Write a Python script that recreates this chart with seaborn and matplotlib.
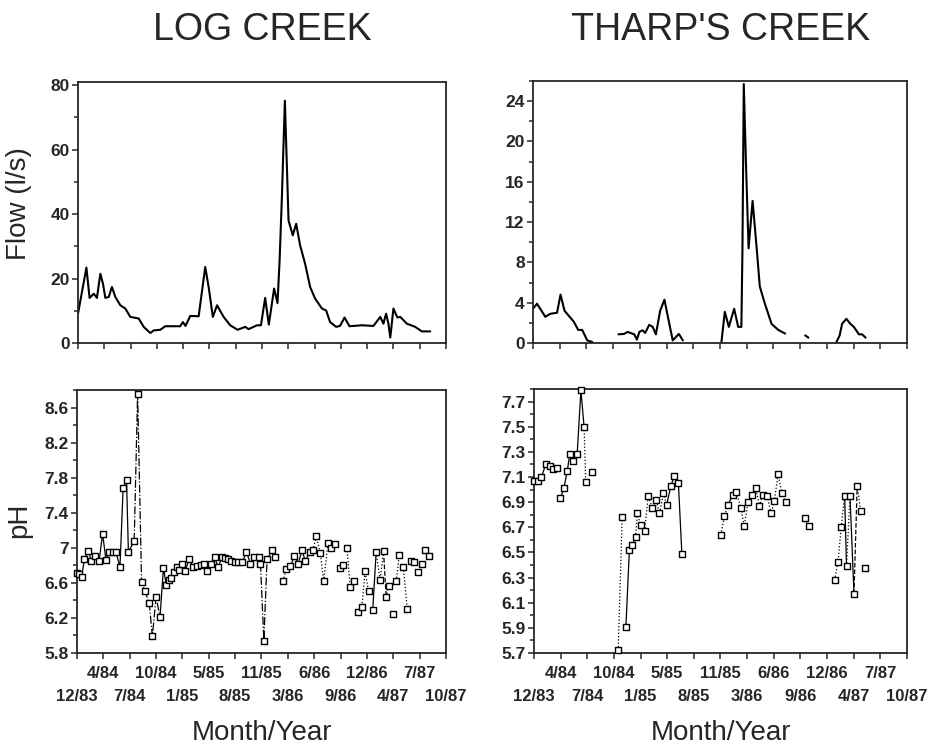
import numpy as np
import pandas as pd
import matplotlib
matplotlib.use('Agg')
import matplotlib.pyplot as plt
import seaborn as sns
from matplotlib.ticker import MultipleLocator

sns.set_style('ticks')
plt.rcParams['font.family'] = ['Liberation Sans', 'DejaVu Sans']

# ---------------- data (x in units of the evenly spaced month ticks) ----------------
month_labels = ['12/83', '4/84', '7/84', '10/84', '1/85', '5/85', '8/85', '11/85',
                '3/86', '6/86', '9/86', '12/86', '4/87', '7/87', '10/87']

log_flow_x = [0, 0.32, 0.44, 0.60, 0.72, 0.85, 0.95, 1.04, 1.17, 1.29,
              1.42, 1.61, 1.80, 1.99, 2.31, 2.50, 2.75, 2.88, 3.13, 3.32,
              3.89, 3.99, 4.09, 4.27, 4.59, 4.84, 4.97, 5.13, 5.29, 5.54,
              5.79, 6.07, 6.36, 6.49, 6.81, 6.96, 7.12, 7.26, 7.46, 7.59,
              7.67, 7.76, 7.87, 8.01, 8.17, 8.30, 8.45, 8.64, 8.83, 9.02,
              9.28, 9.44, 9.59, 9.82, 9.97, 10.14, 10.33, 10.80, 11.24, 11.50,
              11.62, 11.72, 11.81, 11.88, 12.00, 12.15, 12.26, 12.51, 12.83, 13.08,
              13.40]
log_flow_y = [9.1, 23.4, 14.0, 15.3, 14.0, 21.5, 18.4, 14.0, 14.3, 17.4,
              14.3, 11.7, 10.7, 8.1, 7.6, 5.0, 3.1, 3.9, 4.1, 5.2,
              5.2, 6.5, 5.3, 8.4, 8.3, 23.6, 17.4, 8.1, 11.7, 8.1,
              5.5, 4.1, 5.0, 4.3, 5.5, 5.5, 14.0, 5.7, 16.9, 12.4,
              25.7, 46.0, 75.2, 38.0, 33.4, 37.0, 30.3, 24.6, 17.4, 13.8,
              10.7, 10.1, 6.5, 5.0, 5.3, 7.9, 5.2, 5.5, 5.3, 8.1,
              6.0, 9.1, 6.0, 1.7, 10.7, 7.9, 8.1, 6.0, 5.0, 3.6,
              3.6]

tharp_flow_x = [0.00, 0.15, 0.46, 0.65, 0.90, 1.03, 1.18, 1.34, 1.53, 1.69, 1.84, 2.03, 2.22,
                3.20, 3.41, 3.54, 3.79, 3.89, 3.98, 4.10, 4.20, 4.35, 4.48, 4.60, 4.76, 4.92,
                5.08, 5.23, 5.46, 5.61,
                7.05, 7.18, 7.33, 7.53, 7.68, 7.80, 7.84, 7.89, 7.97, 8.07, 8.22, 8.37, 8.49,
                8.68, 8.93, 9.18, 9.44,
                10.19, 10.31,
                11.36, 11.48, 11.57, 11.73, 11.88, 12.01, 12.20, 12.32, 12.45]
tharp_flow_y = [3.4, 3.9, 2.6, 2.9, 3.0, 4.8, 3.2, 2.7, 2.1, 1.3, 1.3, 0.26, 0.1,
                0.86, 0.9, 1.1, 0.86, 0.33, 1.1, 1.26, 1.0, 1.8, 1.6, 0.86, 3.2, 4.3,
                2.2, 0.26, 0.9, 0.26,
                0.0, 3.1, 1.6, 3.4, 1.6, 1.6, 9.2, 25.7, 18.0, 9.4, 14.1, 9.5, 5.6,
                3.9, 1.9, 1.3, 0.93,
                0.76, 0.53,
                0.1, 0.76, 1.9, 2.4, 1.9, 1.6, 0.86, 0.86, 0.53]
tharp_flow_run = [0] * 13 + [1] * 17 + [2] * 17 + [3] * 2 + [4] * 9

log_ph_x = [0.00, 0.09, 0.18, 0.28, 0.43, 0.55, 0.68, 0.84, 0.97, 1.10,
            1.22, 1.35, 1.48, 1.63, 1.75, 1.88, 1.95, 2.17, 2.30, 2.45,
            2.57, 2.74, 2.86, 3.00, 3.15, 3.28, 3.39, 3.49, 3.58, 3.68,
            3.78, 3.87, 3.97, 4.10, 4.25, 4.41, 4.56, 4.72, 4.82, 4.94,
            5.09, 5.22, 5.36, 5.49, 5.61, 5.74, 5.86, 5.99, 6.12, 6.27,
            6.43, 6.58, 6.73, 6.90, 6.96, 7.09, 7.21, 7.40, 7.53, 7.82,
            7.94, 8.10, 8.25, 8.39, 8.54, 8.66, 8.83, 8.95, 9.08, 9.23,
            9.36, 9.52, 9.65, 9.80, 9.96, 10.11, 10.24, 10.37, 10.52, 10.68,
            10.81, 10.93, 11.06, 11.22, 11.35, 11.50, 11.63, 11.73, 11.82, 11.98,
            12.11, 12.23, 12.38, 12.53, 12.66, 12.80, 12.95, 13.08, 13.20, 13.37]
log_ph_y = [6.71, 6.70, 6.67, 6.87, 6.96, 6.85, 6.91, 6.85, 7.16, 6.86,
            6.95, 6.95, 6.95, 6.78, 7.68, 7.77, 6.95, 7.08, 8.76, 6.61,
            6.51, 6.37, 5.99, 6.44, 6.21, 6.77, 6.57, 6.63, 6.66, 6.72,
            6.78, 6.75, 6.81, 6.73, 6.87, 6.78, 6.79, 6.80, 6.81, 6.73,
            6.82, 6.89, 6.78, 6.89, 6.88, 6.87, 6.85, 6.84, 6.84, 6.84,
            6.95, 6.82, 6.90, 6.90, 6.82, 5.94, 6.87, 6.97, 6.89, 6.62,
            6.76, 6.79, 6.91, 6.82, 6.97, 6.85, 6.95, 6.97, 7.13, 6.94,
            6.62, 7.05, 7.00, 7.04, 6.77, 6.80, 7.00, 6.55, 6.62, 6.27,
            6.33, 6.73, 6.51, 6.29, 6.95, 6.63, 6.96, 6.44, 6.56, 6.25,
            6.62, 6.92, 6.78, 6.30, 6.85, 6.84, 6.72, 6.82, 6.98, 6.91]

tharp_ph_x = [0.00, 0.15, 0.28, 0.44, 0.59, 0.72, 0.87, 0.99, 1.12, 1.25,
              1.34, 1.47, 1.62, 1.76, 1.88, 1.94, 2.18,
              3.16, 3.31, 3.45, 3.58, 3.69, 3.81, 3.88, 4.00, 4.15, 4.29,
              4.44, 4.58, 4.71, 4.86, 4.98, 5.14, 5.27, 5.42, 5.55,
              7.01, 7.15, 7.28, 7.47, 7.59, 7.77, 7.89, 8.03, 8.18, 8.33,
              8.46, 8.59, 8.75, 8.90, 9.02, 9.16, 9.31, 9.46,
              10.16, 10.31,
              11.28, 11.41, 11.53, 11.66, 11.73, 11.86, 12.01, 12.13, 12.26, 12.42]
tharp_ph_y = [7.07, 7.07, 7.10, 7.20, 7.19, 7.16, 7.17, 6.93, 7.01, 7.15,
              7.28, 7.23, 7.28, 7.79, 7.50, 7.06, 7.14,
              5.72, 6.78, 5.91, 6.52, 6.56, 6.62, 6.81, 6.72, 6.67, 6.95,
              6.85, 6.92, 6.81, 6.97, 6.88, 7.03, 7.11, 7.05, 6.49,
              6.64, 6.79, 6.88, 6.96, 6.98, 6.85, 6.71, 6.90, 6.96, 7.01,
              6.87, 6.96, 6.95, 6.81, 6.91, 7.12, 6.97, 6.90,
              6.77, 6.71,
              6.28, 6.42, 6.70, 6.95, 6.39, 6.95, 6.17, 7.03, 6.83, 6.38]

# connecting lines between pH samples: (first index, last index, line style)
log_ph_links = [(0, 17, '-'), (17, 24, '-.'), (24, 54, '-'), (54, 56, '-.'), (56, 58, '-'),
                (59, 61, ':'), (61, 67, '-'), (67, 72, ':'), (74, 75, '-'), (76, 78, ':'),
                (79, 80, '-'), (80, 82, ':'), (83, 84, '-'), (84, 86, ':'), (86, 87, '--'),
                (87, 88, ':'), (90, 91, ':'), (92, 93, ':')]
tharp_ph_links = [(0, 6, '-'), (7, 13, '-'), (13, 14, '-'), (14, 15, ':'), (17, 18, ':'),
                  (19, 22, '-'), (22, 31, ':'), (31, 35, '-'), (36, 38, ':'), (38, 40, '-'),
                  (40, 53, ':'), (54, 55, ':'), (56, 59, ':'), (59, 60, '-'), (60, 61, ':'),
                  (61, 62, '-'), (62, 63, '--'), (63, 64, ':')]

log_ph_ticks = [5.8, 6.2, 6.6, 7.0, 7.4, 7.8, 8.2, 8.6]
log_ph_ticklabels = ['5.8', '6.2', '6.6', '7', '7.4', '7.8', '8.2', '8.6']
tharp_ph_ticks = [5.7, 5.9, 6.1, 6.3, 6.5, 6.7, 6.9, 7.1, 7.3, 7.5, 7.7]

# ---------------- figure ----------------
W, H = 929, 747
fig = plt.figure(figsize=(W / 100, H / 100), dpi=100)


def px_axes(x0, y0, x1, y1):
    return fig.add_axes([x0 / W, 1 - y1 / H, (x1 - x0) / W, (y1 - y0) / H])


ax_tl = px_axes(78, 82, 446, 343)
ax_tr = px_axes(533, 81, 907, 343)
ax_bl = px_axes(77, 390, 446, 653)
ax_br = px_axes(534, 389, 907, 653)

lf = pd.DataFrame({'x': log_flow_x, 'y': log_flow_y})
sns.lineplot(data=lf, x='x', y='y', sort=False, estimator=None, color='black',
             lw=1.5, ax=ax_tl)
tf = pd.DataFrame({'x': tharp_flow_x, 'y': tharp_flow_y, 'run': tharp_flow_run})
sns.lineplot(data=tf, x='x', y='y', units='run', sort=False, estimator=None,
             color='black', lw=1.5, ax=ax_tr)


def draw_ph(ax, xs, ys, links):
    for i0, i1, ls in links:
        sns.lineplot(x=xs[i0:i1 + 1], y=ys[i0:i1 + 1], sort=False, estimator=None,
                     color='black', lw=0.9, linestyle=ls, ax=ax)
    sns.scatterplot(x=xs, y=ys, marker='s', s=22, color='white', edgecolor='black',
                    linewidth=1.0, ax=ax, zorder=3, clip_on=False)


draw_ph(ax_bl, log_ph_x, log_ph_y, log_ph_links)
draw_ph(ax_br, tharp_ph_x, tharp_ph_y, tharp_ph_links)

for ax in (ax_tl, ax_tr, ax_bl, ax_br):
    ax.set_xlim(0, 14)
    ax.set_xlabel('')
    ax.set_ylabel('')
    for s in ax.spines.values():
        s.set_linewidth(1.3)
        s.set_visible(True)
    # even month ticks are major (lower label row), odd ones minor (upper row)
    ax.set_xticks(range(0, len(month_labels), 2))
    ax.set_xticks(range(1, len(month_labels), 2), minor=True)
    ax.tick_params(axis='both', which='both', direction='out', width=1.1)
    ax.tick_params(axis='x', which='both', length=4)
    ax.tick_params(axis='y', which='major', length=4, pad=2)
    ax.tick_params(axis='y', which='minor', length=3)

ax_tl.set_ylim(0, 81)
ax_tl.yaxis.set_major_locator(MultipleLocator(20))
ax_tl.yaxis.set_minor_locator(MultipleLocator(10))
ax_tr.set_ylim(0, 26)
ax_tr.yaxis.set_major_locator(MultipleLocator(4))
ax_tr.yaxis.set_minor_locator(MultipleLocator(2))
ax_bl.set_ylim(5.8, 8.8)
ax_bl.set_yticks(log_ph_ticks)
ax_bl.set_yticklabels(log_ph_ticklabels)
ax_bl.yaxis.set_minor_locator(MultipleLocator(0.2))
ax_br.set_ylim(5.7, 7.8)
ax_br.set_yticks(tharp_ph_ticks)
ax_br.set_yticklabels([f'{v:.1f}' for v in tharp_ph_ticks])
ax_br.yaxis.set_minor_locator(MultipleLocator(0.1))

for ax in (ax_tl, ax_tr, ax_bl, ax_br):
    for lab in ax.get_yticklabels():
        lab.set_fontweight('bold')
        lab.set_fontsize(12.5)

for ax in (ax_tl, ax_tr):
    ax.set_xticklabels([])
    ax.set_xticklabels([], minor=True)

for ax in (ax_bl, ax_br):
    ax.set_xticklabels(month_labels[0::2], fontweight='bold', fontsize=12)
    ax.set_xticklabels(month_labels[1::2], minor=True, fontweight='bold', fontsize=12)
    ax.tick_params(axis='x', which='minor', pad=5)
    ax.tick_params(axis='x', which='major', pad=22)

# titles and axis labels
fig.text(262 / W, 1 - 30 / H, 'LOG CREEK', ha='center', va='center', fontsize=27)
fig.text(721 / W, 1 - 30 / H, "THARP'S CREEK", ha='center', va='center', fontsize=27)
fig.text(19 / W, 1 - 204 / H, 'Flow (l/s)', ha='center', va='center', rotation=90,
         fontsize=20)
fig.text(19 / W, 1 - 520 / H, 'pH', ha='center', va='center', rotation=90, fontsize=20)
fig.text(262 / W, 1 - 733 / H, 'Month/Year', ha='center', va='center', fontsize=20)
fig.text(721 / W, 1 - 733 / H, 'Month/Year', ha='center', va='center', fontsize=20)

fig.savefig('out.png', dpi=100)
